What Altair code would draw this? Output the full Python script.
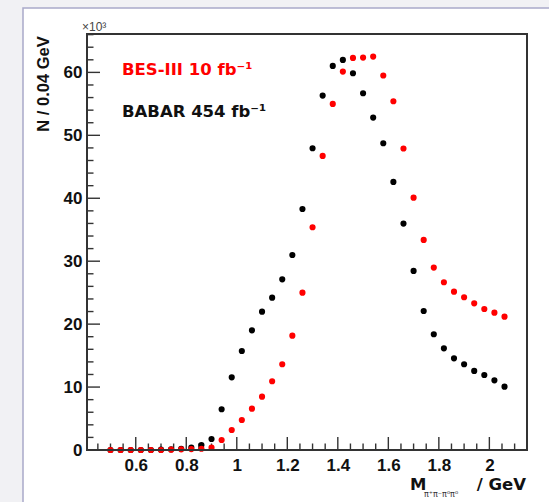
import altair as alt
import pandas as pd

# ---------------- data ----------------
mass = [0.50, 0.54, 0.58, 0.62, 0.66, 0.70, 0.74, 0.78, 0.82, 0.86,
        0.90, 0.94, 0.98, 1.02, 1.06, 1.10, 1.14, 1.18, 1.22, 1.26,
        1.30, 1.34, 1.38, 1.42, 1.46, 1.50, 1.54, 1.58, 1.62, 1.66,
        1.70, 1.74, 1.78, 1.82, 1.86, 1.90, 1.94, 1.98, 2.02, 2.06]

bes3 = [0.0, 0.0, 0.0, 0.0, 0.0, 0.0, 0.05, 0.1, 0.15, 0.2,
        0.37, 1.59, 3.18, 4.77, 6.57, 8.47, 10.92, 13.62, 18.17, 25.0,
        35.39, 46.73, 54.99, 60.13, 62.3, 62.35, 62.51, 59.5, 55.42, 47.9,
        40.1, 33.38, 28.98, 26.65, 25.16, 24.27, 23.31, 22.41, 21.82, 21.19]

babar = [0.0, 0.0, 0.0, 0.0, 0.0, 0.05, 0.1, 0.2, 0.4, 0.8,
         1.75, 6.47, 11.55, 15.73, 19.02, 21.98, 24.2, 27.12, 30.99, 38.3,
         47.95, 56.31, 61.03, 61.98, 59.87, 56.69, 52.82, 48.74, 42.6, 35.97,
         28.45, 22.09, 18.39, 16.16, 14.57, 13.62, 12.56, 11.92, 11.07, 10.06]

x_major = [0.6, 0.8, 1.0, 1.2, 1.4, 1.6, 1.8, 2.0]
x_minor = [0.45, 0.5, 0.55, 0.65, 0.7, 0.75, 0.85, 0.9, 0.95,
           1.05, 1.1, 1.15, 1.25, 1.3, 1.35, 1.45, 1.5, 1.55,
           1.65, 1.7, 1.75, 1.85, 1.9, 1.95, 2.05, 2.1]
y_major = [0, 10, 20, 30, 40, 50, 60]
y_minor = [2, 4, 6, 8, 12, 14, 16, 18, 22, 24, 26, 28, 32, 34, 36, 38,
           42, 44, 46, 48, 52, 54, 56, 58, 62, 64, 66]

label_bes = "BES-III 10 fb⁻¹"
label_babar = "BABAR 454 fb⁻¹"
y_title = "N / 0.04 GeV"
exp_label = "×10³"

# ---------------- layout ----------------
W, H = 440, 416
L, T = 87, 34
one = pd.DataFrame({"a": [0]})

xs = alt.Scale(domain=[0.407, 2.149], nice=False, zero=False)
ys = alt.Scale(domain=[0, 66.1], nice=False, zero=False)

xaxis = alt.Axis(values=x_major, format="~g", labelFont="Liberation Sans",
                 labelFontWeight="bold", labelFontSize=17, labelColor="#111",
                 labelPadding=7, ticks=False, domain=False, grid=False,
                 title=None, zindex=1, labelFlush=False, labelOverlap=False)
yaxis = alt.Axis(values=y_major, format="d", labelFont="Liberation Sans",
                 labelFontWeight="bold", labelFontSize=17, labelColor="#111",
                 labelPadding=5, ticks=False, domain=False, grid=False,
                 title=None, zindex=1, labelFlush=False, labelOverlap=False)

panel = alt.Chart(one).mark_rect(fill="white", stroke="#a9a9c9", strokeWidth=1.5).encode(
    x=alt.value(23 - L), x2=alt.value(560 - L), y=alt.value(8 - T), y2=alt.value(515 - T))

def xticks(vals, length):
    return alt.Chart(pd.DataFrame({"v": vals})).mark_rule(
        stroke="#333", strokeWidth=1.4).encode(
        x=alt.X("v:Q", scale=xs, axis=xaxis), y=alt.value(H), y2=alt.value(H - length))

def yticks(vals, length):
    return alt.Chart(pd.DataFrame({"v": vals})).mark_rule(
        stroke="#333", strokeWidth=1.4).encode(
        y=alt.Y("v:Q", scale=ys, axis=yaxis), x=alt.value(0), x2=alt.value(length))

df_babar = pd.DataFrame({"mass": mass, "n": babar})
df_bes = pd.DataFrame({"mass": mass, "n": bes3})

pts_babar = alt.Chart(df_babar).mark_circle(size=38, color="#000000", opacity=1).encode(
    x=alt.X("mass:Q", scale=xs, axis=xaxis), y=alt.Y("n:Q", scale=ys, axis=yaxis))
pts_bes = alt.Chart(df_bes).mark_circle(size=38, color="#ff0000", opacity=1).encode(
    x=alt.X("mass:Q", scale=xs, axis=xaxis), y=alt.Y("n:Q", scale=ys, axis=yaxis))

frame = alt.Chart(one).mark_rect(fillOpacity=0, stroke="#333", strokeWidth=2).encode(
    x=alt.value(0), x2=alt.value(W), y=alt.value(0), y2=alt.value(H))

def txt(text, x, y, size, color="#111", font="DejaVu Sans", weight="bold",
        align="left", baseline="alphabetic", angle=0):
    return alt.Chart(one).mark_text(
        text=text, font=font, fontSize=size, fontWeight=weight, color=color,
        align=align, baseline=baseline, angle=angle).encode(
        x=alt.value(x), y=alt.value(y))

texts = [
    txt(label_bes, 122 - L, 75 - T, 16.5, color="#ff0000"),
    txt(label_babar, 122 - L, 117 - T, 16.5, color="#111"),
    txt(exp_label, 82 - L, 31 - T, 12, color="#444", font="Liberation Sans", weight="normal"),
    txt(y_title, 44 - L, 84 - T, 16.5, font="Liberation Sans", align="center",
        baseline="middle", angle=270),
    txt("M", 410 - L, 490 - T, 16.5),
    txt("π⁺π⁻π⁰π⁰", 424 - L, 497 - T, 8, color="#333", weight="normal"),
    txt("/ GeV", 526 - L, 490 - T, 16.5, align="right"),
]

chart = alt.layer(
    panel,
    xticks(x_major, 13), xticks(x_minor, 6.5),
    yticks(y_major, 13), yticks(y_minor, 6.5),
    pts_babar, pts_bes,
    frame,
    *texts,
).properties(
    width=W, height=H, autosize="none",
    padding={"left": L, "top": T, "right": 549 - L - W, "bottom": 502 - T - H},
    background="#f1f1f4",
).configure_view(stroke=None)

chart.save("out.html", embed_options={"renderer": "svg", "actions": False})
